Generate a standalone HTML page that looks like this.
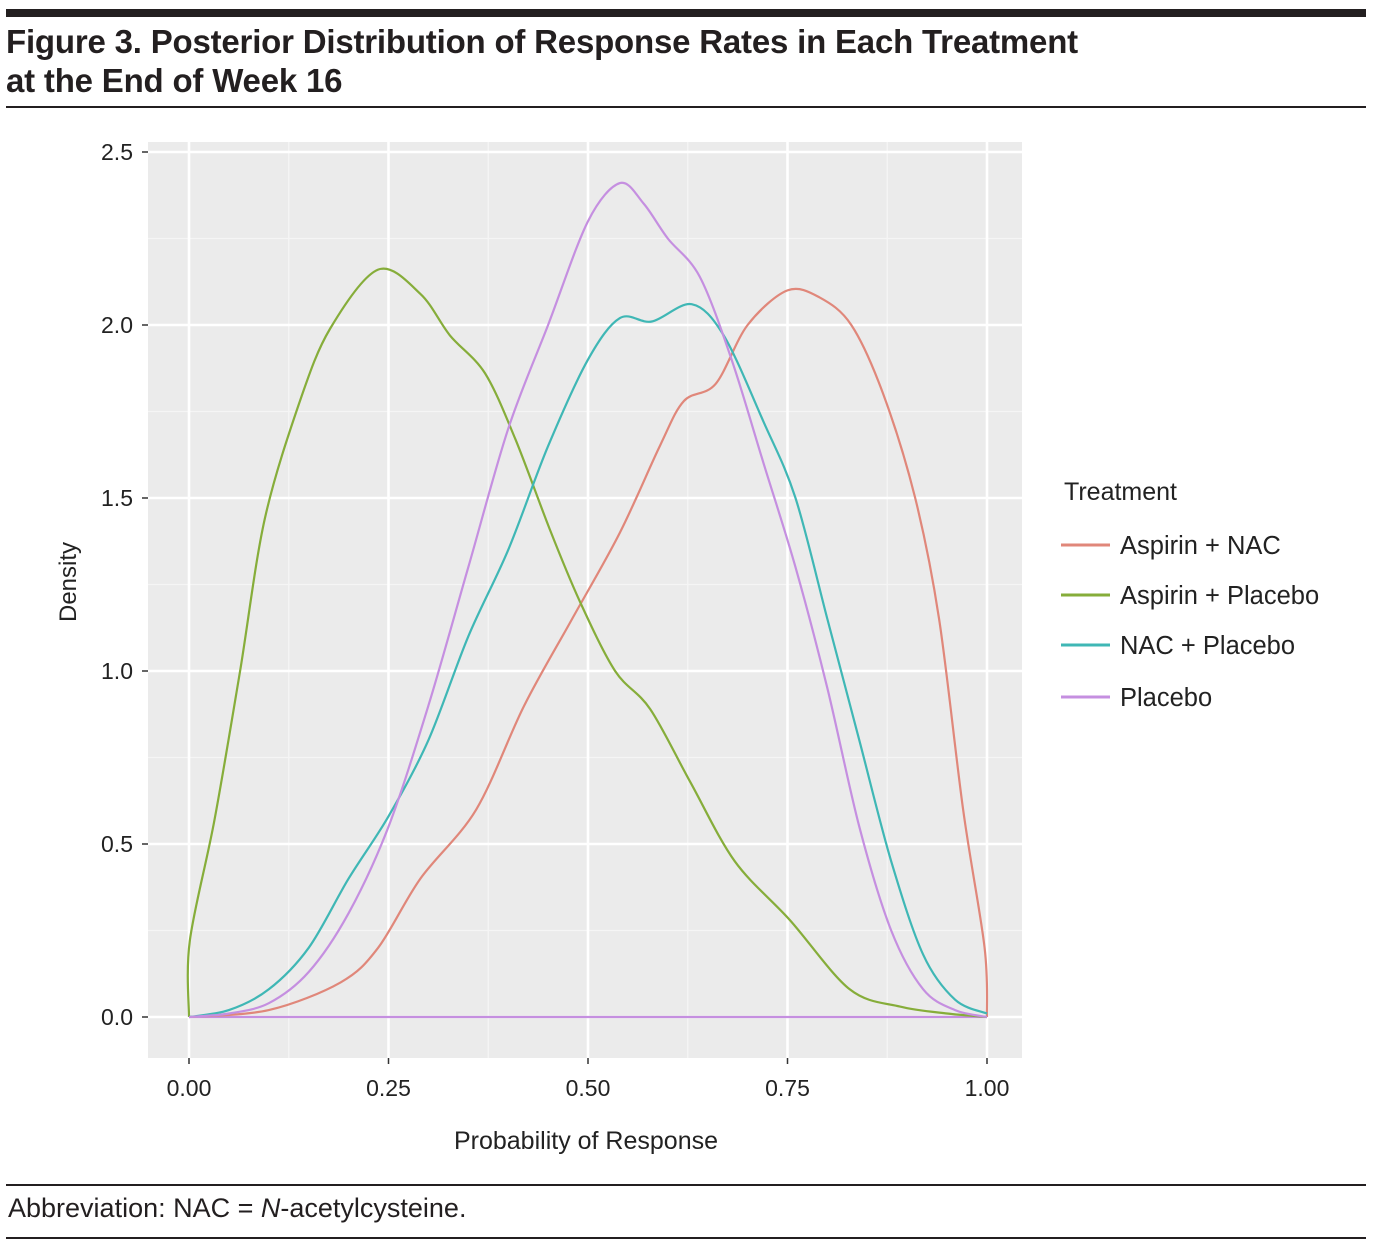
<!DOCTYPE html>
<html><head><meta charset="utf-8"><style>
body{margin:0;background:#fff;width:1374px;height:1246px;overflow:hidden;font-family:"Liberation Sans",sans-serif;}
#title{position:absolute;left:6px;top:22px;font-weight:bold;font-size:33px;line-height:39px;color:#231f20;letter-spacing:-0.2px;white-space:nowrap;}
.rule{position:absolute;left:6px;width:1360px;background:#231f20;}
#foot{position:absolute;left:8px;top:1193px;font-size:27px;color:#231f20;}
</style></head><body>
<div class="rule" style="top:9px;height:8px"></div>
<div id="title">Figure 3. Posterior Distribution of Response Rates in Each Treatment<br>at the End of Week 16</div>
<div class="rule" style="top:106px;height:2px"></div>
<svg id="chart" width="1374" height="1246" style="position:absolute;left:0;top:0" font-family="Liberation Sans, sans-serif"></svg>
<div class="rule" style="top:1184px;height:2px"></div>
<div id="foot">Abbreviation: NAC = <i>N</i>-acetylcysteine.</div>
<div class="rule" style="top:1237px;height:2px"></div>
<script>
const seriesNames=["Aspirin + NAC","Aspirin + Placebo","NAC + Placebo","Placebo"];
const seriesColors=["#e0877a","#86ad3a","#3fb7b5","#c58fe0"];
const xTicks=[0,0.25,0.5,0.75,1];
const xTickLabels=["0.00","0.25","0.50","0.75","1.00"];
const yTicks=[0,0.5,1,1.5,2,2.5];
const yTickLabels=["0.0","0.5","1.0","1.5","2.0","2.5"];
const redX=[0,0.1,0.19,0.237,0.29,0.36,0.42,0.48,0.54,0.59,0.62,0.66,0.7,0.75,0.79,0.83,0.87,0.91,0.94,0.97,0.997,1.0];
const redY=[0,0.02,0.1,0.2,0.4,0.6,0.9,1.15,1.4,1.65,1.78,1.83,2.0,2.1,2.08,2.0,1.8,1.5,1.15,0.6,0.2,0];
const greenX=[0,0.001,0.032,0.064,0.095,0.139,0.177,0.237,0.29,0.327,0.371,0.409,0.452,0.49,0.534,0.578,0.628,0.684,0.753,0.828,0.891,0.95,1.0];
const greenY=[0,0.22,0.57,1.0,1.44,1.78,1.99,2.16,2.09,1.97,1.86,1.67,1.41,1.2,1.0,0.89,0.68,0.45,0.28,0.08,0.03,0.01,0];
const cyanX=[0,0.05,0.1,0.15,0.2,0.25,0.3,0.35,0.4,0.45,0.5,0.54,0.58,0.63,0.67,0.72,0.76,0.8,0.84,0.88,0.92,0.96,1.0];
const cyanY=[0,0.02,0.08,0.2,0.4,0.58,0.8,1.1,1.35,1.65,1.9,2.02,2.01,2.06,1.97,1.72,1.5,1.15,0.8,0.45,0.18,0.05,0.01];
const purpleX=[0,0.05,0.1,0.15,0.2,0.25,0.3,0.35,0.4,0.45,0.5,0.54,0.57,0.6,0.64,0.68,0.72,0.76,0.8,0.84,0.88,0.92,0.96,1.0];
const purpleY=[0,0.01,0.04,0.13,0.3,0.55,0.9,1.3,1.7,2.0,2.3,2.41,2.35,2.25,2.14,1.9,1.6,1.3,0.95,0.55,0.25,0.08,0.02,0];
const allX=[redX,greenX,cyanX,purpleX], allY=[redY,greenY,cyanY,purpleY];
const NS="http://www.w3.org/2000/svg";
const svg=document.getElementById('chart');
const X=v=>189+v*798, Y=v=>1017-v*346;
function mk(t,a,p){const e=document.createElementNS(NS,t);for(const k in a)e.setAttribute(k,a[k]);(p||svg).appendChild(e);return e;}
function smooth(pts){
  let d='M'+pts[0][0].toFixed(1)+','+pts[0][1].toFixed(1);
  for(let i=0;i<pts.length-1;i++){
    const p0=pts[i-1]||pts[i],p1=pts[i],p2=pts[i+1],p3=pts[i+2]||p2;
    const t=0.16;
    const c1=[p1[0]+(p2[0]-p0[0])*t,p1[1]+(p2[1]-p0[1])*t];
    const c2=[p2[0]-(p3[0]-p1[0])*t,p2[1]-(p3[1]-p1[1])*t];
    d+='C'+c1.map(v=>v.toFixed(1)).join(',')+' '+c2.map(v=>v.toFixed(1)).join(',')+' '+p2[0].toFixed(1)+','+p2[1].toFixed(1);
  }
  return d;
}
const bg=mk('rect',{x:148,y:142,width:874,height:916,fill:'#ebebeb'});


for(let i=0;i<xTicks.length-1;i++){const m=(xTicks[i]+xTicks[i+1])/2;mk('line',{x1:X(m),x2:X(m),y1:142,y2:1058,stroke:'#f5f5f5','stroke-width':1.3});}
for(let i=0;i<yTicks.length-1;i++){const m=(yTicks[i]+yTicks[i+1])/2;mk('line',{x1:148,x2:1022,y1:Y(m),y2:Y(m),stroke:'#f5f5f5','stroke-width':1.3});}
xTicks.forEach((v,i)=>{
  const g=mk('line',{x1:X(v),x2:X(v),y1:142,y2:1058,stroke:'#fff','stroke-width':2.6});
  
  
  mk('line',{x1:X(v),x2:X(v),y1:1058,y2:1064,stroke:'#333','stroke-width':1.5});
  const t=mk('text',{x:X(v),y:1096,'text-anchor':'middle','font-size':23,fill:'#222'});t.textContent=xTickLabels[i];
  
  
});
yTicks.forEach((v,i)=>{
  const g=mk('line',{x1:148,x2:1022,y1:Y(v),y2:Y(v),stroke:'#fff','stroke-width':2.6});
  
  
  mk('line',{x1:142,x2:148,y1:Y(v),y2:Y(v),stroke:'#333','stroke-width':1.5});
  const t=mk('text',{x:133,y:Y(v)+8,'text-anchor':'end','font-size':23,fill:'#222'});t.textContent=yTickLabels[i];
  
  
});
const pl=mk('line',{x1:X(0),x2:X(1),y1:Y(0),y2:Y(0),stroke:seriesColors[3],'stroke-width':2.2});


allX.forEach((xs,s)=>{
  const pts=xs.map((x,i)=>[X(x),Y(allY[s][i])]);
  const p=mk('path',{d:smooth(pts),fill:'none',stroke:seriesColors[s],'stroke-width':2.2,'stroke-linejoin':'round'});
  
  
});
const xt=mk('text',{x:586,y:1149,'text-anchor':'middle','font-size':25,fill:'#222'});xt.textContent='Probability of Response';


const yt=mk('text',{x:0,y:0,'text-anchor':'middle','font-size':24,fill:'#222',transform:'translate(76,582) rotate(-90)'});yt.textContent='Density';


const lt=mk('text',{x:1064,y:500,'font-size':25,fill:'#222'});lt.textContent='Treatment';


const ly=[545,595,645,697];
seriesNames.forEach((n,i)=>{
  const g=mk('g',{});
  
  
  mk('line',{x1:1061,x2:1110,y1:ly[i],y2:ly[i],stroke:seriesColors[i],'stroke-width':3},g);
  const t=mk('text',{x:1120,y:ly[i]+9,'font-size':25.5,fill:'#222'},g);t.textContent=n;
});
</script>
</body></html>
